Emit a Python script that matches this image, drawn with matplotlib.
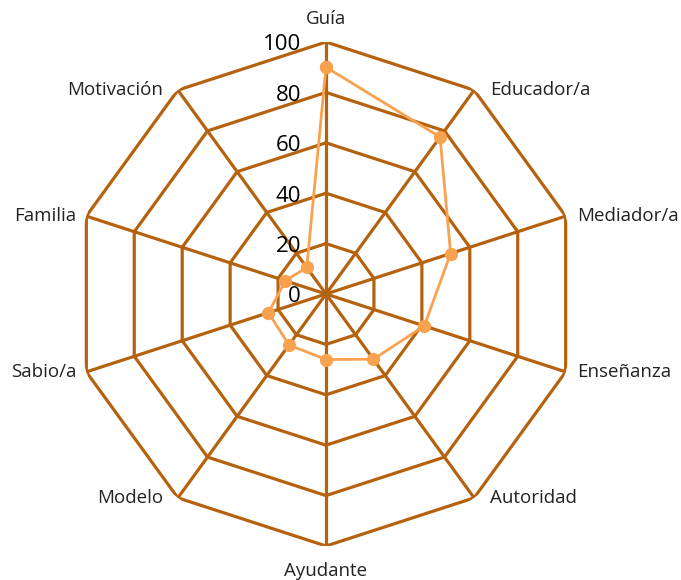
import numpy as np
import matplotlib
matplotlib.use("Agg")
import matplotlib.pyplot as plt

categories = ["Guía", "Educador/a", "Mediador/a", "Enseñanza", "Autoridad",
              "Ayudante", "Modelo", "Sabio/a", "Familia", "Motivación"]
values = [90, 77, 52, 41, 32, 26, 25, 24, 17, 13]
ring_levels = [20, 40, 60, 80, 100]
ring_labels = ["0", "20", "40", "60", "80", "100"]

GRID = "#B5620F"
SERIES = "#F8A24F"

plt.rcParams["font.family"] = ["Open Sans", "DejaVu Sans"]

fig = plt.figure(figsize=(6.81, 5.80), dpi=100)
W, H = 681, 580
cx, cy, R = 326, 294, 252
ax = fig.add_axes([(cx - R) / W, (H - cy - R) / H, 2 * R / W, 2 * R / H],
                  projection="polar")
ax.set_theta_zero_location("N")
ax.set_theta_direction(-1)
ax.set_ylim(0, 100)
ax.grid(False)
ax.set_xticks([])
ax.set_yticks([])
ax.spines["polar"].set_visible(False)
ax.patch.set_alpha(0)

n = len(categories)
theta = np.linspace(0, 2 * np.pi, n, endpoint=False)
theta_c = np.append(theta, theta[0])

# polygon rings + spokes
for lv in ring_levels:
    ax.plot(theta_c, [lv] * (n + 1), color=GRID, lw=2.3, zorder=1)
for t in theta:
    ax.plot([t, t], [0, 100], color=GRID, lw=2.3, zorder=1)

# series
vals_c = values + values[:1]
ax.plot(theta_c, vals_c, color=SERIES, lw=2.0, marker="o", ms=8.5,
        mec=SERIES, mfc=SERIES, zorder=3, clip_on=False)

# ring value labels (left of the vertical axis)
for i, lab in enumerate(ring_labels):
    ax.annotate(lab, xy=(0, i * 20), xytext=(-25, -3), textcoords="offset pixels",
                ha="right", va="center", fontsize=16, color="black",
                annotation_clip=False)

# category labels next to outer vertices
for t, lab in zip(theta, categories):
    s, c = np.sin(t), np.cos(t)
    if abs(s) < 1e-6:
        off = (0, 23 if c > 0 else -25)
        ha = "center"
    elif s > 0:
        off = (16 if abs(c) > 0.5 else 11, 0)
        ha = "left"
    else:
        off = (-15 if abs(c) > 0.5 else -10, 0)
        ha = "right"
    ax.annotate(lab, xy=(t, 100), xytext=off, textcoords="offset pixels",
                ha=ha, va="center", fontsize=13.5, color="#222222",
                annotation_clip=False)

fig.savefig("out.png", dpi=100)
